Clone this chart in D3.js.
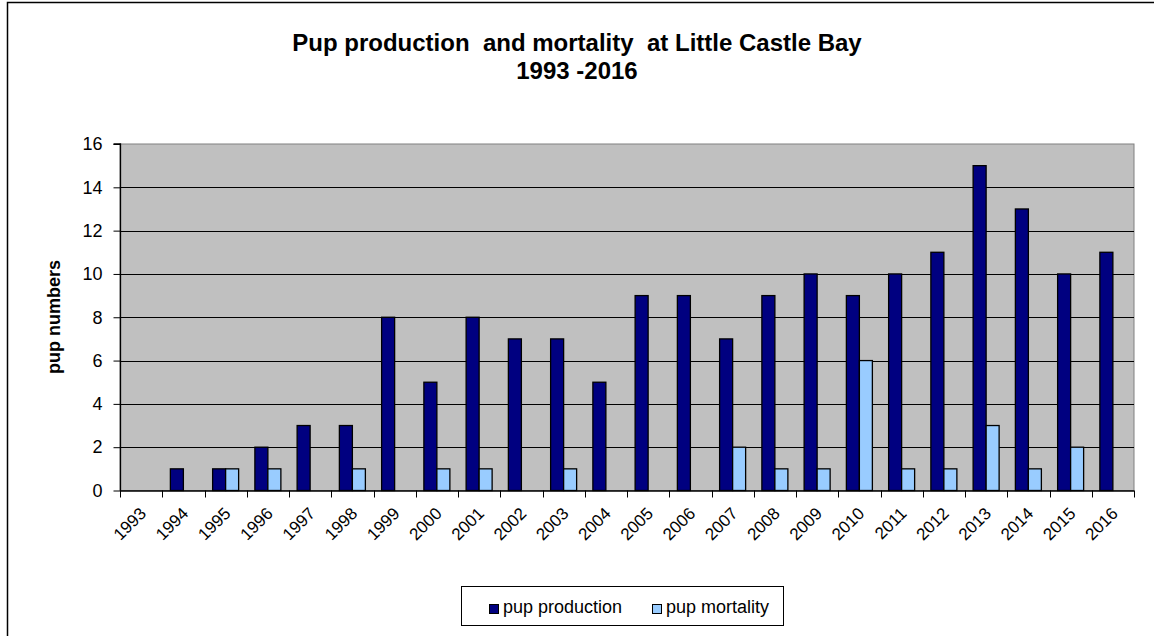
<!DOCTYPE html>
<html><head><meta charset="utf-8">
<script src="https://cdn.jsdelivr.net/npm/d3@7"></script>
<style>body{margin:0;background:#fff;}svg{display:block;font-family:Arial,"Liberation Sans",sans-serif;}</style>
</head><body><svg id="c" width="1154" height="636"></svg>
<script>
const years = ["1993","1994","1995","1996","1997","1998","1999","2000","2001","2002","2003","2004","2005","2006","2007","2008","2009","2010","2011","2012","2013","2014","2015","2016"];
const production = [0,1,1,2,3,3,8,5,8,7,7,5,9,9,7,9,10,9,10,11,15,13,10,11];
const mortality  = [0,0,1,1,0,1,0,1,1,0,1,0,0,0,2,1,1,6,1,1,3,1,2,0];
const seriesNames = ["pup production","pup mortality"];
const yTicks = [0,2,4,6,8,10,12,14,16];

const colors = {"pup production":"#000080","pup mortality":"#99CCFF"};
const svg = d3.select("#c");
const L=120,R=1134,T=144,B=490.5;
const FONT = "Arial, 'Liberation Sans', sans-serif";

// outer frame
svg.append("rect").attr("x",7.5).attr("y",2.5).attr("width",1200).attr("height",700).attr("fill","none").attr("stroke","#000").attr("stroke-width",1.5);

const x0 = d3.scaleBand().domain(years).range([L,R]).paddingInner(0).paddingOuter(0);
const x1 = d3.scaleBand().domain(seriesNames).range([0,x0.bandwidth()]).paddingInner(0).paddingOuter(0.625);
const y = d3.scaleLinear().domain([0,16]).range([B,T]);

svg.append("rect").attr("x",L).attr("y",T).attr("width",R-L).attr("height",B-T).attr("fill","#C0C0C0").attr("stroke","#808080").attr("stroke-width",1);

// grid
svg.append("g").selectAll("line").data(yTicks.filter(d=>d>0 && d<16)).join("line")
  .attr("x1",L).attr("x2",R).attr("y1",d=>Math.round(y(d))+0.5).attr("y2",d=>Math.round(y(d))+0.5)
  .attr("stroke","#000").attr("stroke-width",1);

// bars
const data = years.map((yr,i)=>({yr, vals:[{s:"pup production",v:production[i]},{s:"pup mortality",v:mortality[i]}]}));
const g = svg.append("g");
data.forEach(d=>{
  d.vals.forEach(b=>{
    if(b.v<=0) return;
    g.append("rect").attr("x",x0(d.yr)+x1(b.s)).attr("y",y(b.v)).attr("width",x1.bandwidth()).attr("height",B-y(b.v))
      .attr("fill",colors[b.s]).attr("stroke","#000").attr("stroke-width",1.3);
  });
});

// y axis
const yAxis = d3.axisLeft(y).tickValues(yTicks).tickSize(7).tickPadding(11);
const ya = svg.append("g").attr("transform",`translate(${L+0.5},0)`).call(yAxis);
ya.select(".domain").attr("stroke","#000").attr("stroke-width",1.3).attr("d",`M-7,${T}H0V${B}`);
ya.selectAll("text").attr("font-size",18).attr("fill","#000").attr("font-family",FONT);
ya.selectAll(".tick line").attr("stroke","#000");

// x axis
const xa = svg.append("g").attr("transform",`translate(0,${B})`);
xa.append("line").attr("x1",L).attr("x2",R).attr("y1",0.5).attr("y2",0.5).attr("stroke","#000").attr("stroke-width",1.3);
xa.selectAll("line.tk").data(years.concat(["end"])).join("line").attr("class","tk")
  .attr("x1",(d,i)=>Math.round(L+i*x0.step())+0.5).attr("x2",(d,i)=>Math.round(L+i*x0.step())+0.5)
  .attr("y1",0).attr("y2",7).attr("stroke","#000");
xa.selectAll("text").data(years).join("text")
  .attr("transform",d=>`translate(${x0(d)+x0.bandwidth()/2+6},${24}) rotate(-45)`)
  .attr("text-anchor","end").attr("font-size",17).attr("fill","#000").text(d=>d);

// y label
svg.append("text").attr("transform","translate(60,317) rotate(-90)").attr("text-anchor","middle")
  .attr("font-size",18).attr("font-weight","bold").text("pup numbers");

// title
svg.append("text").attr("x",577).attr("y",51).attr("text-anchor","middle").attr("font-size",24).attr("font-weight","bold")
  .attr("xml:space","preserve").style("white-space","pre").text("Pup production  and mortality  at Little Castle Bay");
svg.append("text").attr("x",577).attr("y",79).attr("text-anchor","middle").attr("font-size",24).attr("font-weight","bold")
  .text("1993 -2016");

// legend
const lg = svg.append("g");
lg.append("rect").attr("x",461.5).attr("y",586.5).attr("width",322).attr("height",39).attr("fill","#fff").attr("stroke","#000");
const lx = [489,652];
seriesNames.forEach((s,i)=>{
  lg.append("rect").attr("x",lx[i]+0.5).attr("y",604.5).attr("width",9).attr("height",9).attr("fill",colors[s]).attr("stroke","#000");
  lg.append("text").attr("x",lx[i]+14).attr("y",613).attr("font-size",18).attr("fill","#000").text(s);
});
</script></body></html>
